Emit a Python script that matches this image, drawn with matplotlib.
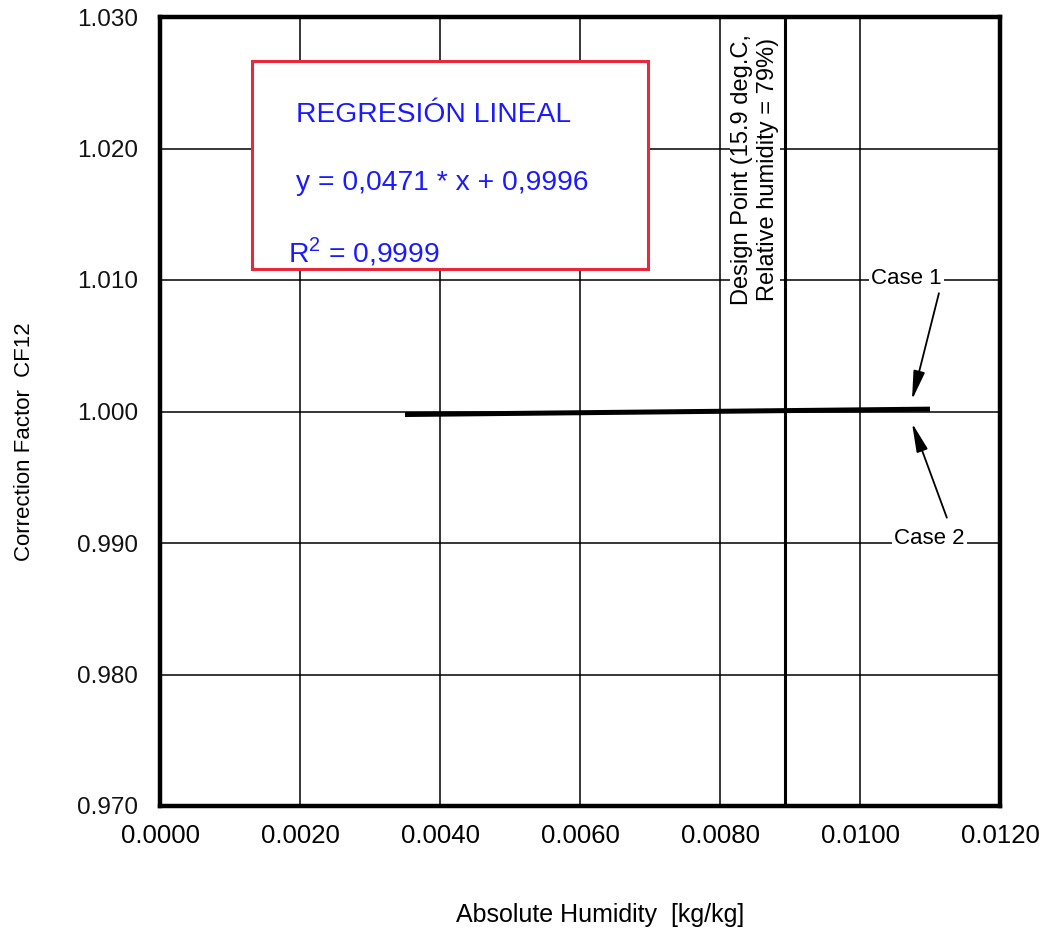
import matplotlib
matplotlib.use("Agg")
import matplotlib.pyplot as plt
from matplotlib import font_manager
from matplotlib.patches import Rectangle

# Correction factor CF12 versus absolute humidity (two cases overlap)
humidity = [0.0035, 0.0110]
cf12 = [0.99977, 1.00018]

design_humidity = 0.00893

x_ticks = [0.0000, 0.0020, 0.0040, 0.0060, 0.0080, 0.0100, 0.0120]
x_tick_labels = ["0.0000", "0.0020", "0.0040", "0.0060", "0.0080", "0.0100", "0.0120"]
y_ticks = [0.970, 0.980, 0.990, 1.000, 1.010, 1.020, 1.030]
y_tick_labels = ["0.970", "0.980", "0.990", "1.000", "1.010", "1.020", "1.030"]

regression_title = "REGRESIÓN LINEAL"
regression_eq = "y = 0,0471 * x + 0,9996"
regression_r2 = "R$^2$ = 0,9999"

available = {f.name for f in font_manager.fontManager.ttflist}
base_font = "Liberation Sans" if "Liberation Sans" in available else "DejaVu Sans"

plt.rcParams["font.family"] = [base_font, "DejaVu Sans"]
plt.rcParams["mathtext.fontset"] = "custom"
plt.rcParams["mathtext.rm"] = base_font

fig = plt.figure(figsize=(10.44, 9.35), dpi=100)
ax = fig.add_axes([160 / 1044, 1 - 806 / 935, 840 / 1044, 789 / 935])

ax.set_xlim(0.0, 0.012)
ax.set_ylim(0.970, 1.030)

# Grid
for xv in x_ticks[1:-1]:
    ax.axvline(xv, color="black", lw=1.1, zorder=1)
for yv in y_ticks[1:-1]:
    ax.axhline(yv, color="black", lw=1.1, zorder=1)

# Design point marker
ax.axvline(design_humidity, color="black", lw=2.2, zorder=2)

# CF12 curve
ax.plot(humidity, cf12, color="black", lw=3.6, solid_capstyle="butt", zorder=4)

for s in ax.spines.values():
    s.set_linewidth(3.2)
    s.set_color("black")
    s.set_zorder(6)

ax.set_xticks(x_ticks)
ax.set_xticklabels(x_tick_labels, fontsize=18.5)
ax.set_yticks(y_ticks)
ax.set_yticklabels(y_tick_labels, fontsize=17.5, color="#111111")
ax.tick_params(axis="x", length=0, pad=13)
ax.tick_params(axis="y", length=0, pad=16)

fig.text(600 / 1044, 1 - 915 / 935, "Absolute Humidity  [kg/kg]", ha="center", va="center",
         fontsize=18)
fig.text(25 / 1044, 1 - 442 / 935, "Correction Factor  CF12", ha="center", va="center",
         rotation=90, fontsize=16)

# Design point annotation
ax.text(0.0085, 1.01837, "Design Point (15.9 deg.C,\nRelative humidity = 79%)",
        rotation=90, ha="center", va="center", multialignment="center",
        fontsize=17, linespacing=1.18, zorder=5,
        bbox=dict(facecolor="white", edgecolor="none", pad=1.0))

# Case labels with arrows
ax.annotate("Case 1", xy=(0.010743, 1.00088), xytext=(0.01066, 1.01015),
            ha="center", va="center", fontsize=16, zorder=5,
            bbox=dict(facecolor="white", edgecolor="none", pad=1.5),
            arrowprops=dict(arrowstyle="-|>,head_length=1.1,head_width=0.22",
                            color="black", lw=1.3, shrinkA=2, shrinkB=0,
                            relpos=(0.98, 0.0)))
ax.annotate("Case 2", xy=(0.010743, 0.99912), xytext=(0.01099, 0.99038),
            ha="center", va="center", fontsize=16, zorder=5,
            bbox=dict(facecolor="white", edgecolor="none", pad=1.5),
            arrowprops=dict(arrowstyle="-|>,head_length=1.1,head_width=0.22",
                            color="black", lw=1.3, shrinkA=6, shrinkB=0,
                            relpos=(0.8, 1.0)))

# Regression box
box = Rectangle((0.1095, 0.680), 0.4714, 0.264, transform=ax.transAxes,
                facecolor="white", edgecolor="#e8293b", lw=2.2, zorder=7)
ax.add_patch(box)
blue = "#1a1aff"
ax.text(0.162, 0.876, regression_title, transform=ax.transAxes, color=blue,
        fontsize=20.3, ha="left", va="center", zorder=8)
ax.text(0.162, 0.789, regression_eq, transform=ax.transAxes, color=blue,
        fontsize=20.3, ha="left", va="center", zorder=8)
ax.text(0.152, 0.703, regression_r2, transform=ax.transAxes, color=blue,
        fontsize=20.3, ha="left", va="center", zorder=8)

fig.savefig("out.png", dpi=100, facecolor="white")
